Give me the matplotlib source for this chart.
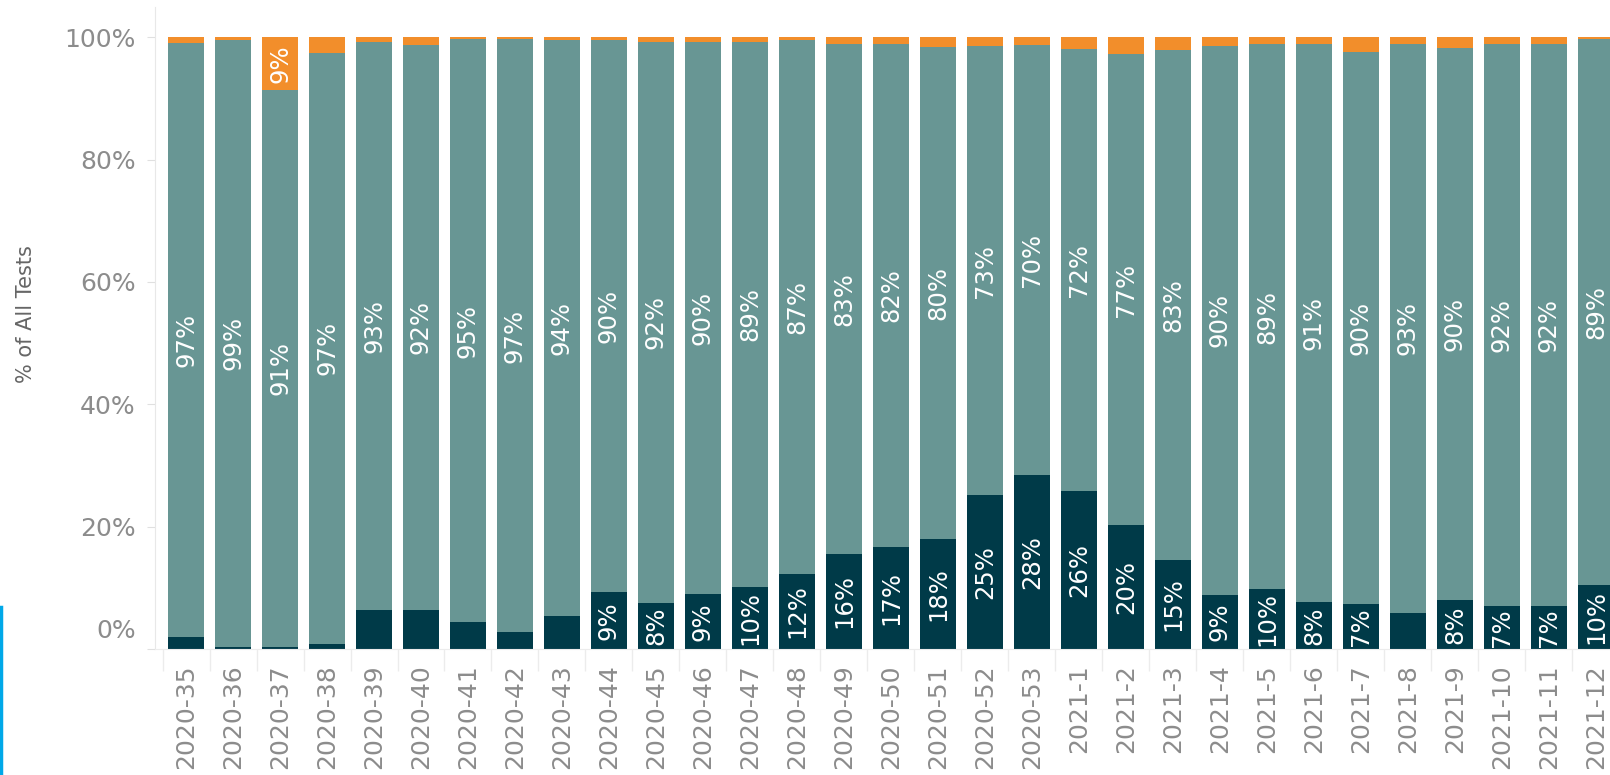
import matplotlib
matplotlib.use("Agg")
import matplotlib.pyplot as plt
from matplotlib.lines import Line2D
from matplotlib.transforms import ScaledTranslation

# semanas
semanas = ["2020-35", "2020-36", "2020-37", "2020-38", "2020-39", "2020-40", "2020-41",
           "2020-42", "2020-43", "2020-44", "2020-45", "2020-46", "2020-47", "2020-48",
           "2020-49", "2020-50", "2020-51", "2020-52", "2020-53", "2021-1", "2021-2",
           "2021-3", "2021-4", "2021-5", "2021-6", "2021-7", "2021-8", "2021-9",
           "2021-10", "2021-11", "2021-12"]

# % de todos los tests (abajo, medio, arriba)
positivos = [2.0, 0.4, 0.4, 0.8, 6.3, 6.4, 4.4, 2.8, 5.4, 9.3, 7.5, 9.0, 10.1, 12.3,
             15.6, 16.7, 18.0, 25.2, 28.4, 25.9, 20.2, 14.6, 8.9, 9.8, 7.7, 7.3, 5.9,
             8.0, 7.1, 7.1, 10.4]
negativos = [97.0, 99.2, 91.0, 96.7, 92.9, 92.4, 95.3, 96.9, 94.2, 90.2, 91.8, 90.3,
             89.2, 87.2, 83.3, 82.2, 80.4, 73.3, 70.4, 72.2, 77.1, 83.4, 89.7, 89.1,
             91.2, 90.3, 93.0, 90.3, 91.8, 91.8, 89.3]
otros = [1.0, 0.4, 8.6, 2.5, 0.8, 1.2, 0.3, 0.3, 0.4, 0.5, 0.7, 0.7, 0.7, 0.5,
         1.1, 1.1, 1.6, 1.5, 1.2, 1.9, 2.7, 2.0, 1.4, 1.1, 1.1, 2.4, 1.1,
         1.7, 1.1, 1.1, 0.3]

color_pos = "#003a48"
color_neg = "#689694"
color_otros = "#f28e2b"
gris = "#8c8c8c"

fig = plt.figure(figsize=(16.1, 7.75), dpi=100)
ax = fig.add_axes([155 / 1610, 126 / 775, 1 - 155 / 1610, 642 / 775])

x = list(range(len(semanas)))
ancho = 0.75
base_neg = positivos
base_otros = [p + n for p, n in zip(positivos, negativos)]

ax.bar(x, positivos, width=ancho, color=color_pos)
ax.bar(x, negativos, width=ancho, bottom=base_neg, color=color_neg)
ax.bar(x, otros, width=ancho, bottom=base_otros, color=color_otros)

# etiquetas dentro de las barras
for i in x:
    segmentos = [(positivos[i], 0, True), (negativos[i], base_neg[i], False),
                 (otros[i], base_otros[i], True)]
    for valor, inicio, chico in segmentos:
        if chico and valor < 6.5:
            continue
        ax.text(i, inicio + valor / 2, f"{valor:.0f}%", rotation=90, ha="center",
                va="center", color="white", fontsize=17.5)

ax.set_xlim(-0.66, 30.3)
ax.set_ylim(0, 104.95)

ax.set_yticks([0, 20, 40, 60, 80, 100])
ax.set_yticklabels(["0%", "20%", "40%", "60%", "80%", "100%"])
ax.tick_params(axis="y", colors="#e0e0e0", labelcolor=gris, labelsize=18, length=6, pad=8)
# el 0% va un poco mas arriba
lbl0 = ax.get_yticklabels()[0]
lbl0.set_transform(lbl0.get_transform() + ScaledTranslation(0, 0.2, fig.dpi_scale_trans))

ax.set_xticks(x)
ax.set_xticklabels(semanas, rotation=90)
ax.tick_params(axis="x", which="major", length=0, labelcolor=gris, labelsize=18, pad=11)
ax.set_xticks([i - 0.5 for i in x], minor=True)
ax.tick_params(axis="x", which="minor", length=16, color="#ececec", width=1)

for lado in ["top", "right"]:
    ax.spines[lado].set_visible(False)
ax.spines["left"].set_color("#e8e8e8")
ax.spines["bottom"].set_color("#ececec")

fig.text(26 / 1610, 1 - 314 / 775, "% of All Tests", rotation=90, ha="center",
         va="center", fontsize=15, color="#666666")

# linea azul del borde
fig.add_artist(Line2D([1 / 1610, 1 / 1610], [0, 1 - 607 / 775], color="#00a8e8",
                      linewidth=2.5, transform=fig.transFigure))

fig.savefig("out.png", dpi=100)
